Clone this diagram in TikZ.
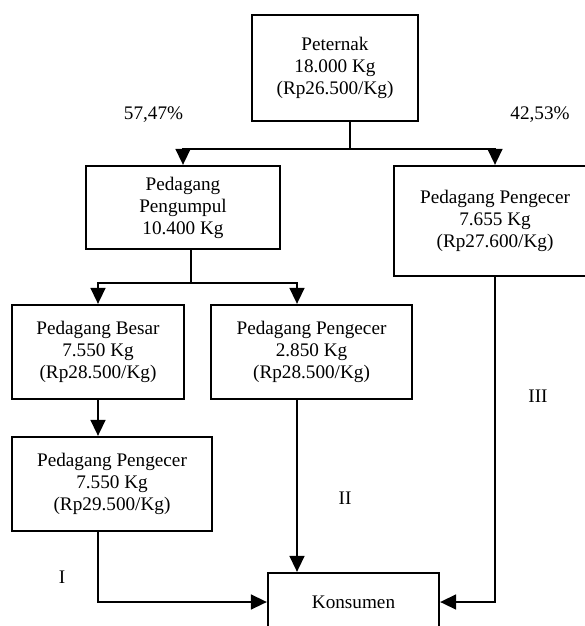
\documentclass[tikz,border=0pt]{standalone}
\usepackage{fontspec}
\setmainfont{Liberation Serif}
\usetikzlibrary{arrows.meta,calc}
\begin{document}
\begin{tikzpicture}[x=1pt,y=-1pt,
  every node/.style={font=\fontsize{19.2}{22}\selectfont, inner sep=0pt},
  box/.style={draw, line width=2.3pt, align=center},
  conn/.style={line width=1.6pt},
  arr/.style={conn, -{Triangle[width=15pt,length=16pt]}}]
\useasboundingbox (0,0) rectangle (585,626);
\clip (0,0) rectangle (585,626);
% boxes
\node[box, minimum width=166pt, minimum height=106pt] (pet) at (335,68) {Peternak\\18.000 Kg\\(Rp26.500/Kg)};
\node[box, minimum width=194pt, minimum height=83pt] (pgp) at (183,207.5) {Pedagang\\Pengumpul\\10.400 Kg};
\node[box, minimum width=202pt, minimum height=110pt] (pr) at (495,221) {Pedagang Pengecer\\7.655 Kg\\(Rp27.600/Kg)};
\node[box, minimum width=172pt, minimum height=94pt] (pb) at (98,352) {Pedagang Besar\\7.550 Kg\\(Rp28.500/Kg)};
\node[box, minimum width=201pt, minimum height=94pt] (pm) at (311.5,352) {Pedagang Pengecer\\2.850 Kg\\(Rp28.500/Kg)};
\node[box, minimum width=200pt, minimum height=94pt] (pl) at (112,484) {Pedagang Pengecer\\7.550 Kg\\(Rp29.500/Kg)};
\node[box, minimum width=171pt, minimum height=58pt] (kon) at (353.5,602) {Konsumen};
% labels
\node (p1) at (153.5,115) {57,47\%};
\node (p2) at (540,115) {42,53\%};
\node (l1) at (62,577) {I};
\node (l2) at (345,498) {II};
\node (l3) at (538,396) {III};
% connectors
\coordinate (j1) at (350,149);
\coordinate (j2) at (191,283);
\draw[conn] (pet.south -| j1) -- (j1);
\draw[arr] (j1) -| (pgp.north);
\draw[arr] (j1) -| (pr.north);
\draw[conn] (pgp.south -| j2) -- (j2);
\draw[arr] (j2) -| (pb.north);
\draw[arr] (j2) -| ([xshift=-14.5pt]pm.north);
\draw[arr] (pb.south) -- (pb.south |- pl.north);
\draw[arr] ([xshift=-14.5pt]pm.south) -- ([xshift=-14.5pt]pm.south |- kon.north);
\draw[arr] (pl.south -| pb.south) |- (kon.west);
\draw[arr] (pr.south) |- (kon.east);
\end{tikzpicture}
\end{document}
